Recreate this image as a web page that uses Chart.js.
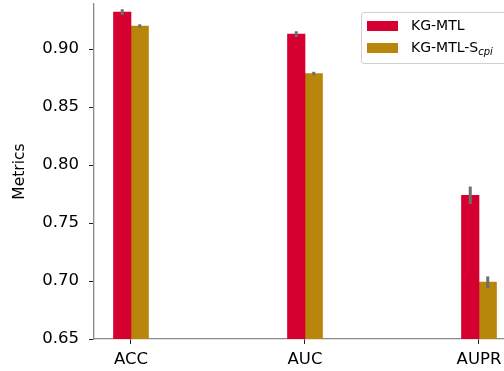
<!DOCTYPE html>
<html>
<head>
<meta charset="utf-8">
<script src="https://cdn.jsdelivr.net/npm/chart.js@4.4.0/dist/chart.umd.min.js"></script>
<style>
  html, body { margin: 0; padding: 0; background: #fff; overflow: hidden; }
  #wrap { position: relative; width: 504px; height: 371px; }
  #legend {
    position: absolute; left: 361px; top: 12px; width: 146px; height: 50px;
    border: 1px solid #d0d0d0; border-radius: 3px; background: rgba(255,255,255,0.8);
    font-family: "DejaVu Sans", sans-serif; font-size: 14px; color: #000;
  }
  .row { position: absolute; left: 5px; height: 12px; }
  .sw { position: absolute; left: 0; top: 1px; width: 31px; height: 10px; }
  .lb { position: absolute; left: 44px; top: -4px; white-space: nowrap; line-height: 18px; }
  .lb sub { font-style: italic; font-size: 10px; vertical-align: -3px; }
</style>
</head>
<body>
<div id="wrap">
  <canvas id="chart" width="504" height="371"></canvas>
  <div id="legend"></div>
</div>
<script>
// --- Data ---
const categories = ["ACC", "AUC", "AUPR"];
const kgmtl = [0.932, 0.913, 0.774];
const kgmtlErr = [0.0025, 0.0025, 0.0075];
const kgmtlScpi = [0.920, 0.879, 0.699];
const kgmtlScpiErr = [0.0015, 0.0015, 0.005];
const yTicks = [0.65, 0.70, 0.75, 0.80, 0.85, 0.90];

const red = "#d50030";
const gold = "#b8860b";

document.addEventListener("DOMContentLoaded", () => {
  // --- Legend (html so the subscript stays real text) ---
  const legend = document.getElementById("legend");
  legend.innerHTML = `
    <div class="row" style="top:7px"><div class="sw" style="background:${red}"></div><span class="lb">KG-MTL</span></div>
    <div class="row" style="top:29px"><div class="sw" style="background:${gold}"></div><span class="lb">KG-MTL-S<sub>cpi</sub></span></div>`;

  // --- Error bars drawn after datasets ---
  const errorBars = {
    id: "errorBars",
    afterDatasetsDraw(chart) {
      const ctx = chart.ctx;
      const y = chart.scales.y;
      ctx.save();
      ctx.strokeStyle = "#6e6e6e";
      ctx.lineWidth = 3;
      chart.data.datasets.forEach((ds, di) => {
        chart.getDatasetMeta(di).data.forEach((bar, i) => {
          const v = ds.data[i].y;
          const e = ds.err[i];
          ctx.beginPath();
          ctx.moveTo(bar.x, y.getPixelForValue(v - e));
          ctx.lineTo(bar.x, y.getPixelForValue(v + e));
          ctx.stroke();
        });
      });
      ctx.restore();
    }
  };

  const toPoints = vals => vals.map((v, i) => ({ x: i, y: v }));

  new Chart(document.getElementById("chart").getContext("2d"), {
    type: "bar",
    data: {
      datasets: [
        { label: "KG-MTL", data: toPoints(kgmtl), err: kgmtlErr, backgroundColor: red },
        { label: "KG-MTL-Scpi", data: toPoints(kgmtlScpi), err: kgmtlScpiErr, backgroundColor: gold }
      ]
    },
    options: {
      responsive: false,
      animation: false,
      layout: { padding: { top: 4, left: 0, right: 0, bottom: 0 } },
      barThickness: 17.5,
      plugins: { legend: { display: false }, tooltip: { enabled: false } },
      scales: {
        x: {
          type: "linear",
          offset: false,
          min: -0.2126,
          max: 2.1437,
          afterBuildTicks: s => { s.ticks = categories.map((c, i) => ({ value: i })); },
          afterFit: s => { s.height = 32; s.paddingLeft = 0; s.paddingRight = 0; },
          ticks: {
            callback: v => categories[v],
            color: "#000",
            font: { family: "DejaVu Sans", size: 16.5 },
            padding: 6,
            maxRotation: 0
          },
          grid: { display: true, offset: false, drawOnChartArea: false, tickLength: 5, tickColor: "#222", tickWidth: 1 },
          border: { color: "#8a8a8a", width: 1.3 }
        },
        y: {
          min: 0.65,
          max: 0.939,
          afterBuildTicks: s => { s.ticks = yTicks.map(v => ({ value: v })); },
          afterFit: s => { s.width = 94; s.paddingTop = 0; s.paddingBottom = 0; },
          ticks: {
            callback: v => v.toFixed(2),
            color: "#000",
            font: { family: "DejaVu Sans", size: 16.5 },
            padding: 10
          },
          title: {
            display: true,
            text: "Metrics",
            color: "#000",
            font: { family: "DejaVu Sans", size: 15.5 },
            padding: { top: 11, bottom: 0 }
          },
          grid: { display: true, drawOnChartArea: false, tickLength: 5, tickColor: "#222", tickWidth: 1 },
          border: { color: "#8a8a8a", width: 1.3 }
        }
      }
    },
    plugins: [errorBars]
  });
});
</script>
</body>
</html>
